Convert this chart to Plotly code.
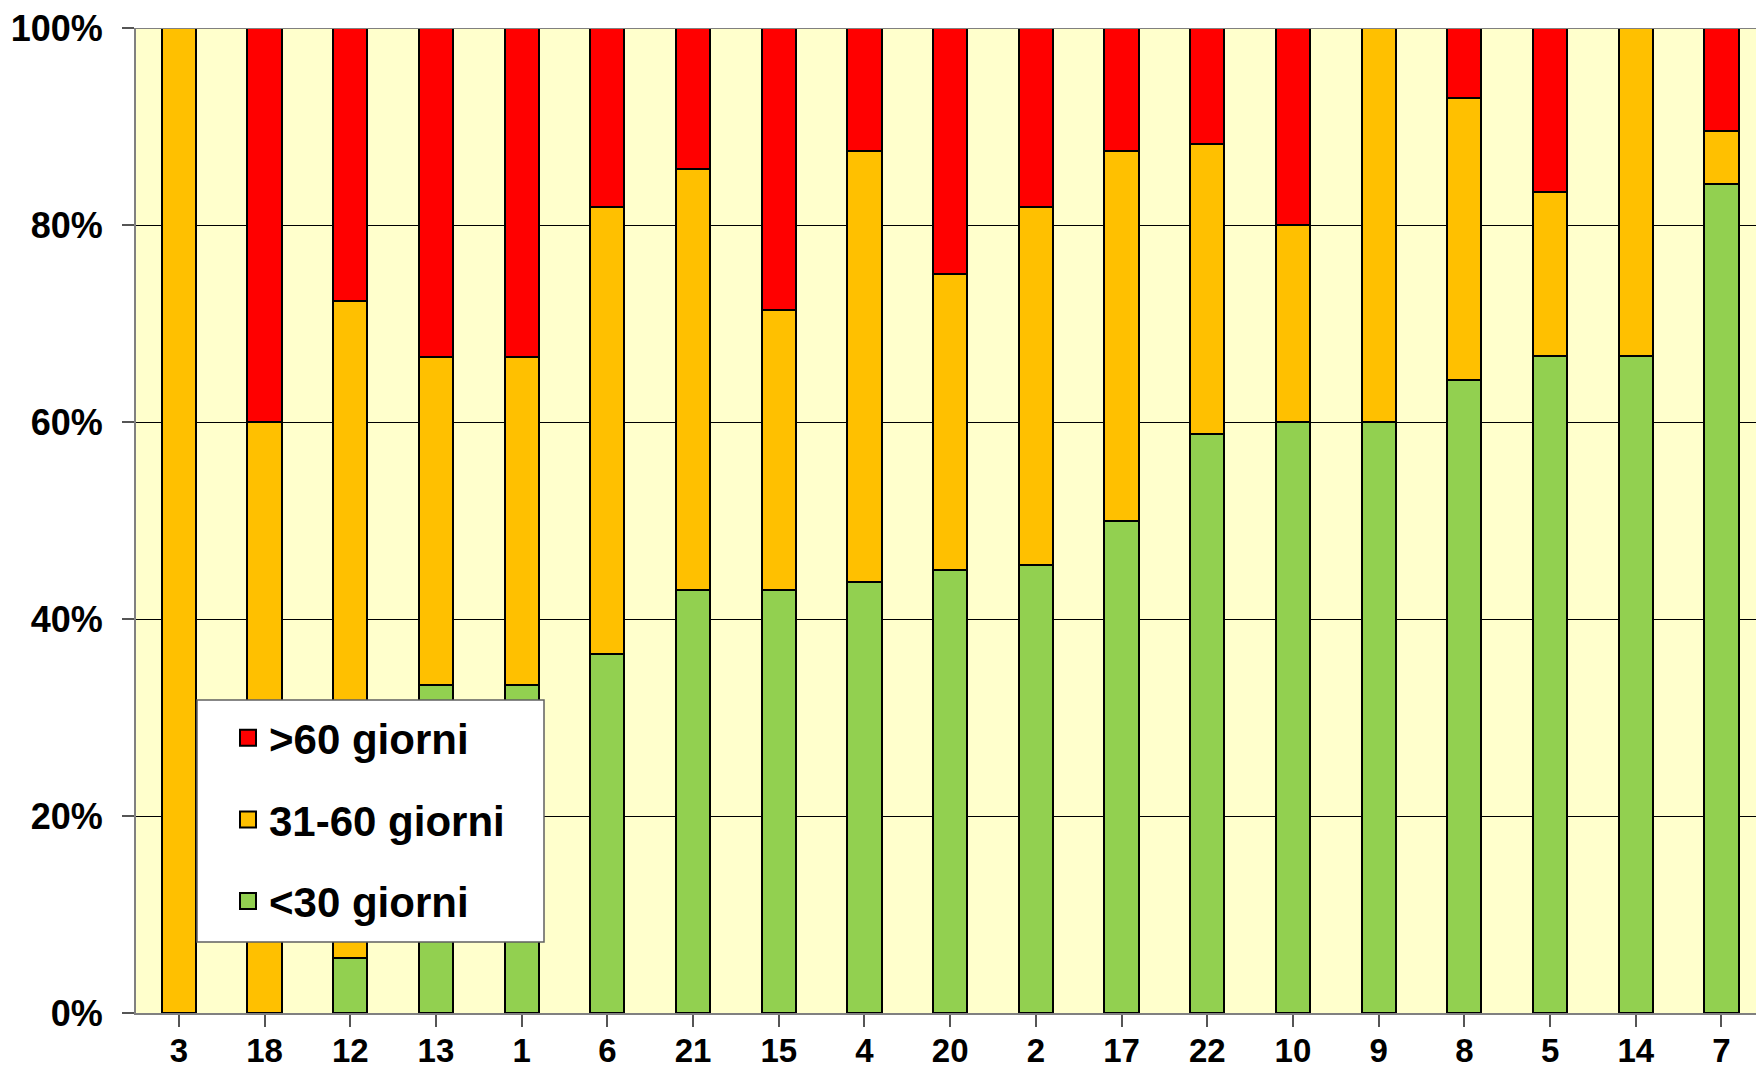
import plotly.graph_objects as go

# Categories (in display order) and percentage shares per delay class
categories = ["3", "18", "12", "13", "1", "6", "21", "15", "4", "20", "2",
              "17", "22", "10", "9", "8", "5", "14", "7"]

lt30 = [0, 0, 5.6, 33.3, 33.3, 36.4, 42.9, 42.9, 43.75, 45, 45.5,
        50, 58.8, 60, 60, 64.3, 66.7, 66.7, 84.2]
d31_60 = [100, 60, 66.7, 33.3, 33.3, 45.4, 42.8, 28.5, 43.75, 30, 36.3,
          37.5, 29.4, 20, 40, 28.6, 16.6, 33.3, 5.3]
gt60 = [0, 40, 27.7, 33.4, 33.4, 18.2, 14.3, 28.6, 12.5, 25, 18.2,
        12.5, 11.8, 20, 0, 7.1, 16.7, 0, 10.5]

series_names = ["<30 giorni", "31-60 giorni", ">60 giorni"]
series_colors = ["#92D050", "#FFC000", "#FF0000"]
series_values = [lt30, d31_60, gt60]
legend_ranks = [3, 2, 1]

W, H = 1756, 1073
ML, MR, MT, MB = 136, 0, 28, 60
FONT = "Liberation Sans, Arial, sans-serif"

fig = go.Figure()
for name, color, vals, rank in zip(series_names, series_colors, series_values, legend_ranks):
    fig.add_trace(go.Bar(
        x=list(range(len(categories))),
        y=vals,
        name=name,
        legendgroup=name,
        showlegend=False,
        width=0.4,
        marker=dict(color=color, line=dict(color="#000000", width=2)),
    ))
    # legend entry with a larger square swatch
    fig.add_trace(go.Scatter(
        x=[None], y=[None],
        mode="markers",
        name=name,
        legendgroup=name,
        legendrank=rank,
        marker=dict(symbol="square", size=16, color=color,
                    line=dict(color="#000000", width=2)),
        hoverinfo="skip",
    ))

# plot area runs slightly past the right edge of the page
cat_px = 85.7
x_end = 18.5 - ((ML + len(categories) * cat_px) - W) / cat_px

plot_h = H - MT - MB
plot_w = W - ML - MR
# legend frame (paper coordinates)
box_x0, box_x1 = (197 - ML) / plot_w, (544 - ML) / plot_w
box_y1, box_y0 = (H - MB - 700) / plot_h, (H - MB - 942) / plot_h

fig.update_layout(
    width=W, height=H,
    barmode="stack",
    margin=dict(l=ML, r=MR, t=MT, b=MB, autoexpand=False),
    paper_bgcolor="#FFFFFF",
    plot_bgcolor="#FFFFCC",
    font=dict(family=FONT, color="#000000"),
    showlegend=True,
    legend=dict(
        x=(227 - ML) / plot_w, y=box_y1 - 4 / plot_h,
        xanchor="left", yanchor="top",
        bgcolor="rgba(0,0,0,0)", borderwidth=0,
        traceorder="grouped", tracegroupgap=24,
        font=dict(family=FONT, size=42, weight="bold", color="#000000"),
        itemwidth=32,
    ),
    xaxis=dict(
        range=[-0.5, x_end],
        automargin=False,
        tickmode="array",
        tickvals=list(range(len(categories))),
        ticktext=categories,
        tickson="boundaries",
        ticks="outside", ticklen=12, tickcolor="#555555", tickwidth=1.5,
        showline=True, linecolor="#808080", linewidth=2,
        showgrid=False, zeroline=False,
        tickfont=dict(family=FONT, size=33, weight="bold", color="#000000"),
        ticklabelstandoff=-5,
    ),
    yaxis=dict(
        range=[0, 100],
        automargin=False,
        tickmode="linear", tick0=0, dtick=20,
        ticksuffix="%",
        ticks="outside", ticklen=12, tickcolor="#555555", tickwidth=1.5,
        showline=True, linecolor="#808080", linewidth=2,
        showgrid=True, gridcolor="#000000", gridwidth=1,
        zeroline=False,
        tickfont=dict(family=FONT, size=36, weight="bold", color="#000000"),
        ticklabelstandoff=12,
    ),
)

# top border of the plot area
fig.add_shape(type="line", xref="paper", yref="y", x0=0, x1=1, y0=100, y1=100,
              line=dict(color="#808080", width=2), layer="above")
# white legend frame
fig.add_shape(type="rect", xref="paper", yref="paper",
              x0=box_x0, x1=box_x1, y0=box_y0, y1=box_y1,
              fillcolor="#FFFFFF", line=dict(color="#606060", width=1.5),
              layer="above")

fig.write_html("out.html")
